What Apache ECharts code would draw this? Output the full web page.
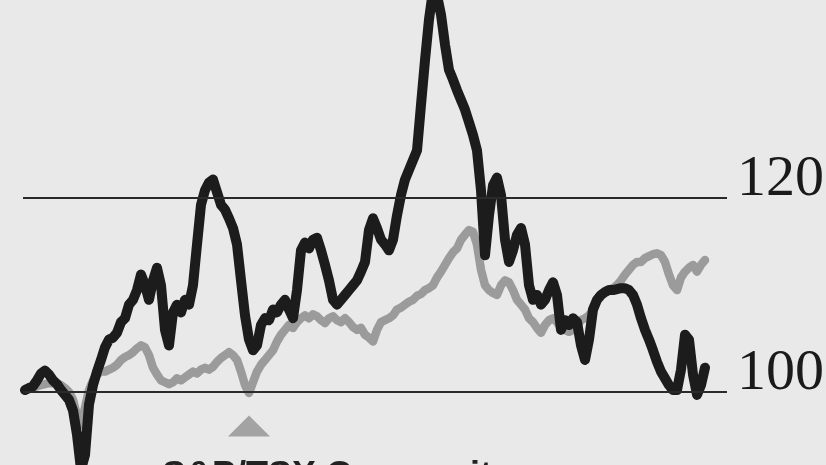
<!DOCTYPE html>
<html>
<head>
<meta charset="utf-8">
<script src="https://cdn.jsdelivr.net/npm/echarts@6/dist/echarts.min.js"></script>
<style>
html,body{margin:0;padding:0;background:#e9e9e9;}
#c{width:826px;height:465px;}
</style>
</head>
<body>
<div id="c"></div>
<script>
// Stock (black) vs S&P/TSX Composite (gray), both rebased to 100
var stockValues = [
100.2,100.4,100.6,101.2,101.9,102.2,101.8,101.2,100.8,100.2,
99.7,99.2,98.1,95.6,92.0,93.5,98.7,100.7,102.1,103.3,
104.6,105.4,105.6,106.1,107.2,107.6,109.0,109.5,110.5,112.1,
111.0,109.5,111.5,112.8,111.0,106.4,104.8,108.2,109.0,108.2,
109.5,109.0,111.0,115.2,119.3,120.8,121.6,121.9,120.6,119.3,
118.8,117.9,116.9,115.2,111.5,107.9,105.4,104.3,104.8,106.9,
107.6,107.4,108.5,108.2,109.0,109.5,108.5,107.6,110.5,114.6,
115.4,114.8,115.7,115.9,114.6,113.1,111.5,109.5,109.0,109.5,
110.0,110.5,111.0,111.5,112.4,113.4,116.7,117.9,116.9,115.7,
115.2,114.6,115.7,118.2,120.3,121.9,122.9,123.9,124.9,129.6,
134.2,138.4,141.4,140.9,138.9,135.8,133.2,132.2,131.1,130.1,
129.1,127.8,126.5,124.9,120.8,114.1,118.2,121.3,122.1,120.3,
115.7,113.4,114.6,116.2,116.9,115.2,111.0,109.5,110.0,109.0,
109.5,110.5,111.3,110.0,106.4,107.4,106.9,107.6,107.2,104.8,
103.3,105.4,108.5,109.5,110.0,110.3,110.5,110.5,110.6,110.7,
110.7,110.5,110.0,109.0,107.6,106.4,105.4,104.3,103.1,102.1,
101.4,100.7,100.2,100.2,102.3,105.9,105.4,101.8,99.7,100.7,102.5
];
var indexValues = [
100.2,100.3,100.4,100.6,100.7,100.8,100.9,100.9,100.8,100.7,
100.4,100.0,99.2,97.6,96.6,98.4,100.2,101.2,101.8,102.1,
102.1,102.3,102.5,102.8,103.3,103.6,103.8,104.1,104.5,104.8,
104.6,103.8,102.5,101.8,101.2,101.0,100.8,101.0,101.4,101.2,
101.5,101.8,102.1,101.9,102.3,102.5,102.3,102.6,103.1,103.5,
103.8,104.1,103.8,103.3,102.1,100.7,99.9,101.0,102.1,102.8,
103.3,103.8,104.3,105.2,105.9,106.4,106.9,106.6,107.2,107.6,
107.9,107.6,108.0,107.8,107.4,107.1,107.6,107.8,107.4,107.2,
107.6,107.2,106.7,106.4,106.6,105.9,105.6,105.2,106.4,107.2,
107.4,107.6,107.9,108.5,108.7,109.0,109.3,109.5,109.9,110.1,
110.5,110.7,111.0,111.8,112.4,113.1,113.8,114.4,114.8,115.7,
116.2,116.7,116.5,115.2,112.6,111.0,110.5,110.2,110.0,111.0,
111.5,111.3,110.5,109.5,109.0,108.5,107.6,107.2,106.6,106.1,
106.9,107.4,107.6,107.2,106.6,106.4,106.2,106.4,106.9,107.4,
107.6,107.9,108.5,109.5,110.0,110.3,110.5,110.7,111.0,111.5,
112.1,112.6,113.1,113.4,113.4,113.8,114.0,114.2,114.3,114.1,
113.4,112.1,111.0,110.5,111.8,112.4,112.8,113.1,112.4,113.1,113.6
];
var referenceLevels = [100, 120];
var indexLabel = 'S&P/TSX Composite';
var markerIndex = 56; // index low that the gray triangle points to

function toPairs(arr){ return arr.map(function(v,i){ return [i, v]; }); }

var chart = echarts.init(document.getElementById('c'), null, {renderer:'canvas'});
chart.setOption({
  backgroundColor: '#e9e9e9',
  animation: false,
  grid: {left: 23, right: 99, top: 0, bottom: 0, containLabel: false},
  xAxis: {type: 'value', min: -0.5, max: 175.5, show: false},
  yAxis: {type: 'value', min: 92.47, max: 140.41, show: false, splitLine: {show: false}},
  graphic: [{
    type: 'text', left: 162, top: 459, z: 10,
    style: {text: indexLabel, font: 'bold 36px "Liberation Sans"', fill: '#222'}
  }],
  series: [
    {
      type: 'line', data: [], z: 1, silent: true,
      markLine: {
        silent: true, symbol: 'none', animation: false,
        lineStyle: {color: '#2a2a2a', width: 2, type: 'solid'},
        label: {
          show: true, position: 'end', distance: 10, formatter: '{c}',
          fontFamily: 'Liberation Serif', fontSize: 58, color: '#1a1a1a',
          verticalAlign: 'bottom', padding: [0, 0, -11, 0]
        },
        data: referenceLevels.map(function(v){ return {yAxis: v}; })
      }
    },
    {
      name: indexLabel, type: 'line', data: toPairs(indexValues), z: 2,
      symbol: 'none', smooth: false,
      lineStyle: {color: '#9b9b9b', width: 8.5, join: 'round', cap: 'round'},
      markPoint: {
        symbol: 'triangle', symbolSize: [42, 21], symbolOffset: [0, 33],
        itemStyle: {color: '#a3a3a3'}, label: {show: false}, silent: true,
        data: [{coord: [markerIndex, indexValues[markerIndex]]}]
      }
    },
    {
      name: 'Stock', type: 'line', data: toPairs(stockValues), z: 3,
      symbol: 'none', smooth: false,
      lineStyle: {color: '#1c1c1c', width: 10, join: 'round', cap: 'round'}
    }
  ]
});
</script>
</body>
</html>
